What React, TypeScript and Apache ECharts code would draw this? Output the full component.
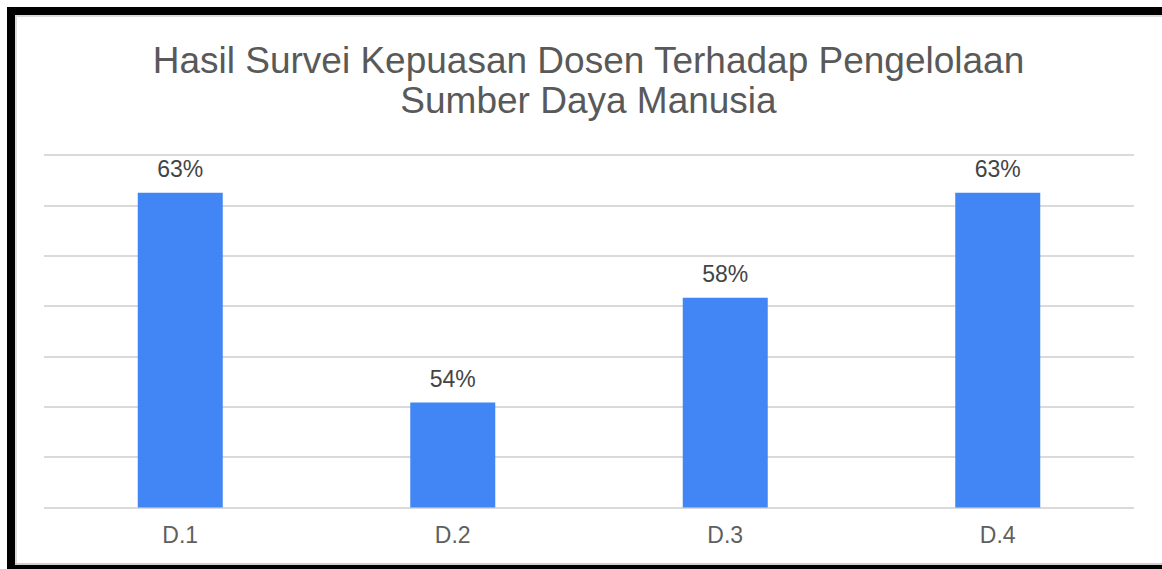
import React, { useEffect, useRef } from "react";
import * as echarts from "echarts";

const titleLines = ["Hasil Survei Kepuasan Dosen Terhadap Pengelolaan", "Sumber Daya Manusia"];
const categories = ["D.1", "D.2", "D.3", "D.4"];
const values = [62.5, 54.17, 58.33, 62.5];
const yMin = 50;
const yMax = 64;
const yStep = 2;

const FONT = "Arial, 'Liberation Sans', sans-serif";

export default function App() {
  const ref = useRef<HTMLDivElement>(null);

  useEffect(() => {
    if (!ref.current) return;
    const chart = echarts.init(ref.current, undefined, { renderer: "svg" });
    chart.setOption({
      animation: false,
      backgroundColor: "#ffffff",
      title: {
        text: titleLines.join("\n"),
        left: "center",
        top: 20,
        textStyle: {
          fontFamily: FONT,
          fontSize: 37,
          fontWeight: "normal",
          color: "#595959",
          lineHeight: 40,
        },
      },
      grid: { left: 29, right: 28, top: 140, bottom: 57.5 },
      xAxis: {
        type: "category",
        data: categories,
        axisLine: { show: false },
        axisTick: { show: false },
        axisLabel: {
          fontFamily: FONT,
          fontSize: 23,
          color: "#5f5f5f",
          margin: 16,
        },
      },
      yAxis: {
        type: "value",
        min: yMin,
        max: yMax,
        interval: yStep,
        axisLabel: { show: false },
        axisLine: { show: false },
        axisTick: { show: false },
        splitLine: { lineStyle: { color: "#dadada", width: 2 } },
      },
      series: [
        {
          type: "bar",
          data: values,
          barWidth: 85,
          itemStyle: { color: "#4285F4" },
          label: {
            show: true,
            position: "top",
            distance: 12,
            fontFamily: FONT,
            fontSize: 23,
            color: "#444444",
            formatter: (p: any) => Math.round(p.value) + "%",
          },
        },
      ],
    });
    return () => chart.dispose();
  }, []);

  return (
    <div style={{ position: "fixed", left: 0, top: 0, width: 1162, height: 569, background: "#fff", overflow: "hidden" }}>
      <div style={{ position: "absolute", left: 7, top: 7, width: 8, height: 562, background: "#000" }} />
      <div style={{ position: "absolute", left: 7, top: 7, width: 1155, height: 8, background: "#000" }} />
      <div style={{ position: "absolute", left: 7, top: 565, width: 1155, height: 4, background: "#000" }} />
      <div ref={ref} style={{ position: "absolute", left: 15, top: 15, width: 1147, height: 550 }} />
      <div style={{ position: "absolute", left: 15, top: 15, width: 1147, height: 2, background: "#dcdcdc" }} />
      <div style={{ position: "absolute", left: 15, top: 15, width: 2, height: 550, background: "#dcdcdc" }} />
      <div style={{ position: "absolute", left: 15, top: 563, width: 1147, height: 2, background: "#cfcfcf" }} />
    </div>
  );
}
